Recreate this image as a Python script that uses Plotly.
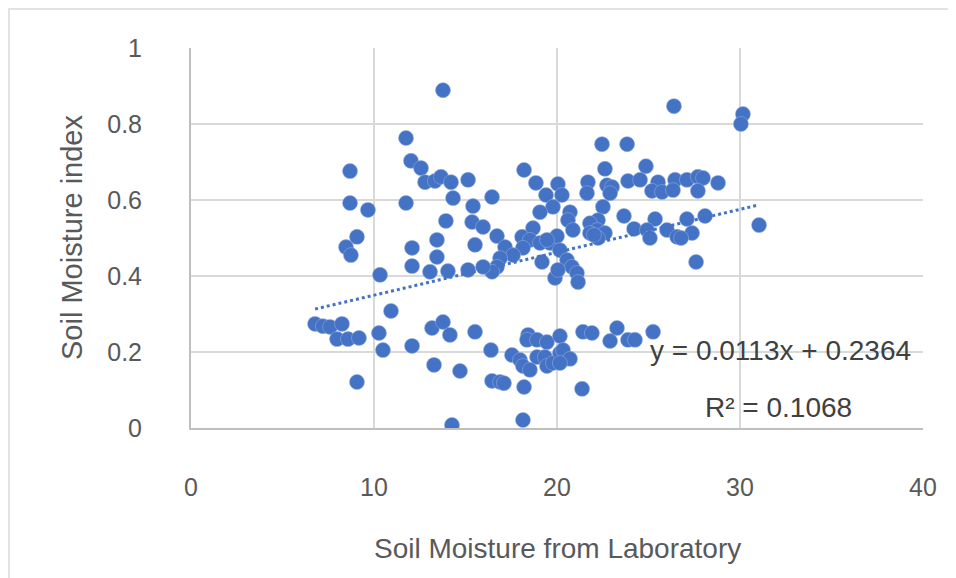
import plotly.graph_objects as go

# Soil moisture from laboratory (x) vs Soil moisture index (y)
lab_moisture = [
    13.77, 26.39, 30.16, 30.05, 11.75, 22.46, 23.83, 12.02, 12.57, 8.69,
    18.20, 22.62, 24.86, 12.79, 13.33, 13.66, 14.21, 15.14, 18.85, 20.05,
    21.69, 22.73, 23.01, 23.88, 24.54, 25.52, 26.45, 27.10, 27.70, 27.98,
    28.80, 19.40, 20.27, 21.64, 22.90, 25.19, 25.74, 26.34, 27.70, 14.32,
    16.45, 8.69, 9.67, 11.75, 15.41, 19.78, 19.07, 20.71, 22.51, 23.66,
    28.09, 25.36, 27.10, 31.04, 13.93, 15.36, 15.96, 20.60, 22.24, 21.80,
    18.69, 20.87, 22.19, 22.62, 21.80, 24.21, 24.92, 26.01, 26.56, 25.08,
    27.38, 26.78, 27.60, 22.24, 9.07, 8.47, 8.74, 12.08, 13.44, 13.44,
    15.52, 16.72, 18.09, 18.52, 19.07, 19.62, 20.00, 19.45, 17.16, 18.14,
    17.60, 16.89, 16.72, 16.45, 15.96, 15.14, 14.04, 13.06, 12.08, 10.33,
    19.18, 20.16, 20.55, 20.82, 21.09, 21.15, 19.89, 20.05, 22.02,
    6.78, 7.21, 7.60, 8.25, 7.98, 8.58, 9.18, 10.93, 10.27, 10.49,
    12.08, 13.17, 13.77, 14.15, 15.52, 16.39, 13.28, 14.70, 9.07, 16.45,
    16.89, 17.10, 18.20, 18.14, 14.26, 18.42, 18.36, 18.91, 19.45, 20.16,
    17.54, 17.98, 18.14, 18.52, 18.91, 19.34, 19.45, 19.78, 20.16, 20.55,
    20.33, 20.71, 20.16, 21.42, 21.91, 23.28, 22.90, 23.88, 24.26, 25.25,
    21.37,
]
moisture_index = [
    0.889, 0.847, 0.826, 0.800, 0.763, 0.747, 0.747, 0.703, 0.684, 0.676,
    0.679, 0.682, 0.689, 0.647, 0.650, 0.661, 0.647, 0.653, 0.645, 0.642,
    0.647, 0.639, 0.634, 0.650, 0.653, 0.647, 0.653, 0.653, 0.661, 0.658,
    0.645, 0.613, 0.613, 0.618, 0.618, 0.624, 0.621, 0.626, 0.624, 0.605,
    0.608, 0.592, 0.574, 0.592, 0.584, 0.582, 0.568, 0.568, 0.582, 0.558,
    0.558, 0.550, 0.550, 0.534, 0.545, 0.542, 0.529, 0.547, 0.547, 0.539,
    0.526, 0.521, 0.521, 0.513, 0.513, 0.524, 0.521, 0.521, 0.503, 0.500,
    0.513, 0.500, 0.437, 0.500, 0.503, 0.476, 0.455, 0.474, 0.495, 0.450,
    0.482, 0.505, 0.503, 0.495, 0.487, 0.487, 0.505, 0.495, 0.476, 0.474,
    0.455, 0.447, 0.424, 0.411, 0.424, 0.416, 0.413, 0.411, 0.426, 0.403,
    0.437, 0.468, 0.442, 0.424, 0.408, 0.384, 0.395, 0.416, 0.508,
    0.274, 0.268, 0.266, 0.274, 0.234, 0.234, 0.237, 0.308, 0.250, 0.205,
    0.216, 0.263, 0.279, 0.245, 0.253, 0.205, 0.166, 0.150, 0.121, 0.124,
    0.121, 0.118, 0.108, 0.021, 0.008, 0.245, 0.232, 0.232, 0.226, 0.242,
    0.192, 0.179, 0.163, 0.153, 0.187, 0.187, 0.163, 0.171, 0.197, 0.184,
    0.205, 0.182, 0.171, 0.253, 0.250, 0.263, 0.229, 0.232, 0.232, 0.253,
    0.103,
]

# Linear trendline as reported on the chart
slope = 0.0113
intercept = 0.2364
r_squared = 0.1068

x_ticks = [0, 10, 20, 30, 40]
y_ticks = [0, 0.2, 0.4, 0.6, 0.8, 1]
y_tick_text = ["0", "0.2", "0.4", "0.6", "0.8", "1"]
x_title = "Soil Moisture from Laboratory"
y_title = "Soil Moisture index"

BLUE = "#4472C4"
FONT = "Liberation Sans"
TXT = "#595959"

x_min, x_max = min(lab_moisture), max(lab_moisture)
trend_x = [x_min, x_max]
trend_y = [slope * v + intercept for v in trend_x]

fig = go.Figure()
fig.add_trace(go.Scatter(
    x=lab_moisture, y=moisture_index, mode="markers",
    marker=dict(color=BLUE, size=15, line=dict(width=0.6, color="#8FA9DC")),
    showlegend=False, hoverinfo="x+y",
))
fig.add_trace(go.Scatter(
    x=trend_x, y=trend_y, mode="lines",
    line=dict(color=BLUE, width=3, dash="dot"),
    showlegend=False, hoverinfo="skip",
))

fig.update_layout(
    width=948, height=570,
    margin=dict(l=183, r=33, t=40, b=150),
    paper_bgcolor="white", plot_bgcolor="white",
    font=dict(family=FONT, size=25, color=TXT),
    xaxis=dict(
        range=[0, 40], tickvals=x_ticks, ticktext=[str(v) for v in x_ticks],
        showgrid=True, gridcolor="#D9D9D9", gridwidth=2,
        zeroline=False, showline=True, linecolor="#BFBFBF", linewidth=2,
        ticks="", ticklabelstandoff=36, fixedrange=True,
        tickfont=dict(family=FONT, size=25, color=TXT),
    ),
    yaxis=dict(
        range=[0, 1], tickvals=y_ticks, ticktext=y_tick_text,
        showgrid=True, gridcolor="#D9D9D9", gridwidth=2,
        zeroline=False, showline=True, linecolor="#BFBFBF", linewidth=2,
        ticks="", ticklabelstandoff=42, fixedrange=True,
        tickfont=dict(family=FONT, size=25, color=TXT),
    ),
    annotations=[
        dict(text=x_title, xref="paper", yref="paper", x=0.5, y=0,
             yshift=-120, showarrow=False, xanchor="center", yanchor="middle",
             font=dict(family=FONT, size=28, color=TXT)),
        dict(text=y_title, xref="paper", yref="paper", x=0, y=0.5,
             xshift=-119, showarrow=False, textangle=-90,
             xanchor="center", yanchor="middle",
             font=dict(family=FONT, size=29, color=TXT)),
        dict(text=f"y = {slope}x + {intercept}", xref="paper", yref="paper",
             x=0.806, y=0.205, showarrow=False, xanchor="center", yanchor="middle",
             font=dict(family=FONT, size=28, color="#404040")),
        dict(text=f"R² = {r_squared}", xref="paper", yref="paper",
             x=0.803, y=0.055, showarrow=False, xanchor="center", yanchor="middle",
             font=dict(family=FONT, size=28, color="#404040")),
    ],
    shapes=[
        dict(type="rect", xref="paper", yref="paper",
             x0=-0.2486, x1=1.038, y0=-0.45, y1=1.1026,
             line=dict(color="#D9D9D9", width=1.5), fillcolor="rgba(0,0,0,0)",
             layer="below"),
    ],
)

fig.write_html("out.html")
